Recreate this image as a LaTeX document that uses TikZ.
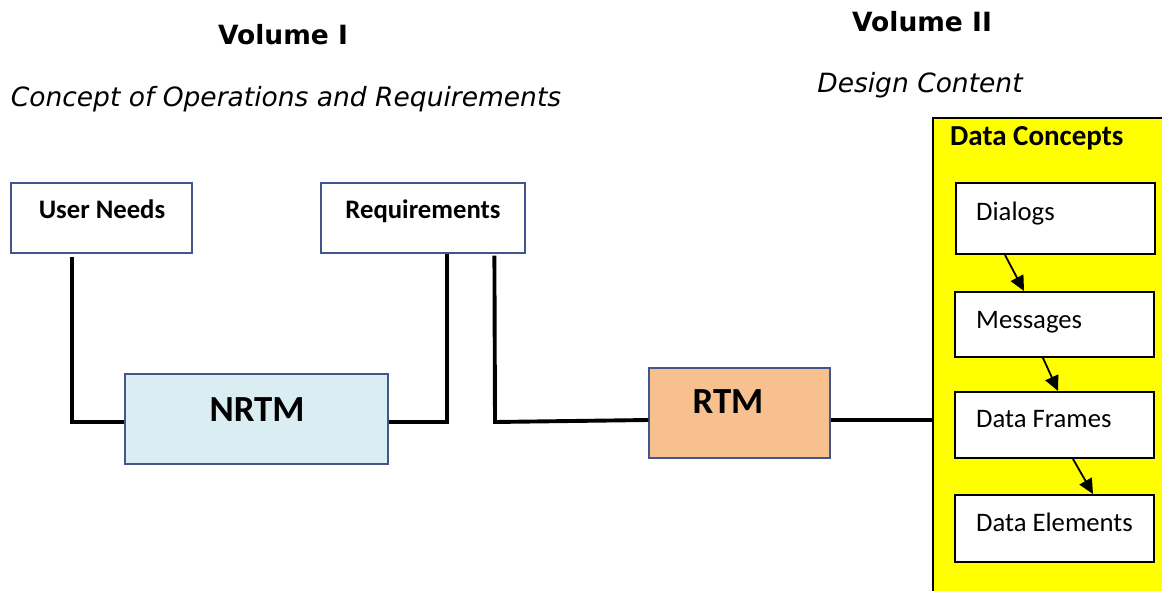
\documentclass[tikz,border=0pt]{standalone}
\usepackage{fontspec}
\setmainfont{Carlito}
\newfontfamily\versans{DejaVu Sans}
\usetikzlibrary{arrows.meta}

\definecolor{boxedge}{RGB}{68,84,140}
\definecolor{nrtmfill}{RGB}{218,237,243}
\definecolor{rtmfill}{RGB}{248,192,143}
\definecolor{conceptfill}{RGB}{255,255,0}

\tikzset{
  title/.style={font=\versans\bfseries\fontsize{26.5}{30}\selectfont},
  subtitle/.style={font=\versans\itshape\fontsize{26.5}{30}\selectfont},
  docbox/.style={draw=boxedge, line width=1.2pt, fill=white, inner sep=0pt},
  matrixbox/.style={draw=boxedge, line width=1.2pt, inner sep=0pt},
  itembox/.style={draw=black, line width=2pt, fill=white, inner sep=0pt,
                  minimum width=199pt},
  boxlabel/.style={font=\bfseries\fontsize{26.7}{30}\selectfont, inner sep=0pt},
  biglabel/.style={font=\bfseries\fontsize{36.8}{40}\selectfont, inner sep=0pt},
  itemlabel/.style={font=\fontsize{26.7}{30}\selectfont, inner sep=0pt, anchor=base west},
  conn/.style={line width=3.9pt, line join=miter},
  flow/.style={line width=1.8pt, -{Triangle[length=15pt,width=14pt]}},
}

\begin{document}
\begin{tikzpicture}[x=1pt, y=-1pt]
\path[use as bounding box] (0,0) rectangle (1162,591);
\clip (0,0) rectangle (1162,591);

% headings
\node[title] (vol1) at (283,35) {Volume I};
\node[subtitle] (vol1sub) at (286,99) {Concept of Operations and Requirements};
\node[title] (vol2) at (922,22) {Volume II};
\node[subtitle] (vol2sub) at (920,85) {Design Content};

% volume I boxes
\node[docbox, minimum width=181pt, minimum height=70pt] (un) at (101.5,218) {};
\node[boxlabel, anchor=base] (un-t) at (102,218) {User Needs};
\node[docbox, minimum width=204pt, minimum height=70pt] (req) at (423,218) {};
\node[boxlabel, anchor=base] (req-t) at (423,218) {Requirements};

\node[matrixbox, fill=nrtmfill, minimum width=263pt, minimum height=90pt] (nrtm) at (256.5,419) {};
\node[biglabel, anchor=base] (nrtm-t) at (257,421) {NRTM};
\node[matrixbox, fill=rtmfill, minimum width=181pt, minimum height=90pt] (rtm) at (739.5,413) {};
\node[biglabel, anchor=base] (rtm-t) at (728,413) {RTM};

% volume II: data concepts
\node[draw=black, line width=2.4pt, fill=conceptfill, inner sep=0pt,
      minimum width=250pt, minimum height=490pt] (dc) at (1058,363) {};
\node[boxlabel, anchor=base west] (dc-t) at (950,146) {\fontsize{29}{32}\selectfont Data Concepts};

\node[itembox, minimum height=71pt] (dlg) at (1055,218.5) {};
\node[itemlabel] (dlg-t) at (976,220) {Dialogs};
\node[itembox, minimum height=65pt] (msg) at (1054,324.5) {};
\node[itemlabel] (msg-t) at (976,328) {Messages};
\node[itembox, minimum height=66pt] (frm) at (1054,425) {};
\node[itemlabel] (frm-t) at (976,427) {Data Frames};
\node[itembox, minimum height=67pt] (elm) at (1054,528.5) {};
\node[itemlabel] (elm-t) at (976,531) {Data Elements};

% hierarchy arrows
\draw[flow] ([xshift=-50pt]dlg.south) -- ([xshift=-30pt]msg.north);
\draw[flow] ([xshift=-11pt]msg.south) -- ([xshift=4pt]frm.north);
\draw[flow] ([xshift=19pt]frm.south) -- ([xshift=39pt]elm.north);

% traceability connectors
\draw[conn] ([xshift=62pt, yshift=-3pt]un.south west) |- ([yshift=-3pt]nrtm.west);
\draw[conn] ([yshift=-3pt]nrtm.east) -| ([xshift=127pt]req.south west);
\coordinate (req-drop) at ([xshift=174pt, yshift=-2pt]req.south west);
\coordinate (req-corner) at (495,422);
\draw[conn] (req-drop) -- (req-corner) -- ([yshift=-7pt]rtm.west);
\coordinate (rtm-out) at ([yshift=-7pt]rtm.east);
\draw[conn] (rtm-out) -- (rtm-out -| dc.west);
\end{tikzpicture}
\end{document}
